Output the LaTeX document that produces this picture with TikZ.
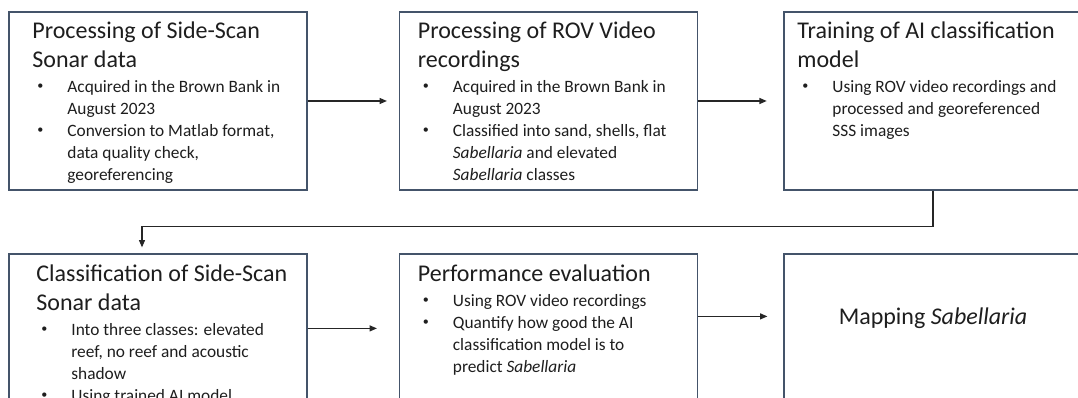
\documentclass[tikz,border=0pt]{standalone}
\usepackage{fontspec}
\setmainfont{Carlito}
\usetikzlibrary{calc,arrows.meta}
\newlength\pxu \setlength\pxu{0.75pt}
\definecolor{boxline}{HTML}{44546A}
\definecolor{txt}{HTML}{1E1E1E}
\definecolor{arrcol}{HTML}{262626}
\newcommand\ttl[1]{{\fontsize{18pt}{21.75pt}\selectfont #1\par}}
\newcommand\bitem[1]{\par\noindent\hangindent=35\pxu\hangafter=1\makebox[35\pxu][l]{\hspace{5\pxu}\raisebox{0.12em}{\scalebox{0.7}{\textbullet}}}#1\par}
\newcommand\boxtext[2]{\vtop{\hsize=290\pxu\parindent=0pt\rightskip=0pt plus 1fil\hbadness=10000
  \ttl{#1}\vspace{2pt}{\fontsize{13pt}{16.5pt}\selectfont #2\par}}}
\tikzset{
  stepbox/.style={draw=boxline, line width=0.9pt, rectangle, minimum width=223.5pt, minimum height=133.5pt, inner sep=0pt},
  txtnode/.style={inner sep=0pt, outer sep=0pt, text=txt, anchor=base west},
  arr/.style={draw=arrcol, line width=0.9pt, -{Triangle[length=5.5pt,width=4.5pt]}}
}
\begin{document}
\begin{tikzpicture}[x=0.75pt,y=-0.75pt]
\useasboundingbox (0,0) rectangle (1078,398);
\clip (0,0) rectangle (1078,398);
\fill[white] (0,0) rectangle (1078,398);
% boxes
\node[stepbox] (b1) at (158,101) {};
\node[stepbox] (b2) at (548.5,101) {};
\node[stepbox] (b3) at (933,101) {};
\node[stepbox] (b4) at (158,343) {};
\node[stepbox] (b5) at (548.5,343) {};
\node[stepbox] (b6) at (933,343) {};
% texts
\node[txtnode] (t1) at ($(b1.north west)+(24,27)$) {\boxtext{Processing of Side-Scan\newline Sonar data}{%
  \bitem{Acquired in the Brown Bank in\newline August 2023}%
  \bitem{Conversion to Matlab format,\newline data quality check,\newline georeferencing}}};
\node[txtnode] (t2) at ($(b2.north west)+(19,27)$) {\boxtext{Processing of ROV Video\newline recordings}{%
  \bitem{Acquired in the Brown Bank in\newline August 2023}%
  \bitem{Classified into sand, shells, flat\newline \textit{Sabellaria} and elevated\newline \textit{Sabellaria} classes}}};
\node[txtnode] (t3) at ($(b3.north west)+(14,27)$) {\boxtext{Training of AI classification\newline model}{%
  \bitem{Using ROV video recordings and\newline processed and georeferenced\newline SSS images}}};
\node[txtnode] (t4) at ($(b4.north west)+(28,28)$) {\boxtext{Classification of Side-Scan\newline Sonar data}{%
  \bitem{Into three classes: elevated\newline reef, no reef and acoustic\newline shadow}%
  \bitem{Using trained AI model}}};
\node[txtnode] (t5) at ($(b5.north west)+(19,28)$) {\boxtext{Performance evaluation}{%
  \bitem{Using ROV video recordings}%
  \bitem{Quantify how good the AI\newline classification model is to\newline predict \textit{Sabellaria}}}};
\node[inner sep=0pt, text=txt, anchor=base] (t6) at ($(b6.north)+(0,71)$) {\fontsize{18pt}{21pt}\selectfont Mapping \textit{Sabellaria}};
% connectors
\draw[arr, shorten >=9pt] (b1.east) -- (b2.west);
\draw[arr, shorten >=12.5pt] (b2.east) -- (b3.west);
\draw[arr, shorten >=4.5pt] (b3.south) -- ++(0,36) -| ($(b4.north)+(-16,0)$);
\draw[arr, shorten >=16.5pt] ($(b4.north east)+(0,75)$) coordinate (a4) -- (a4 -| b5.west);
\draw[arr, shorten >=12pt] ($(b5.north east)+(0,63)$) coordinate (a5) -- (a5 -| b6.west);
\end{tikzpicture}
\end{document}
